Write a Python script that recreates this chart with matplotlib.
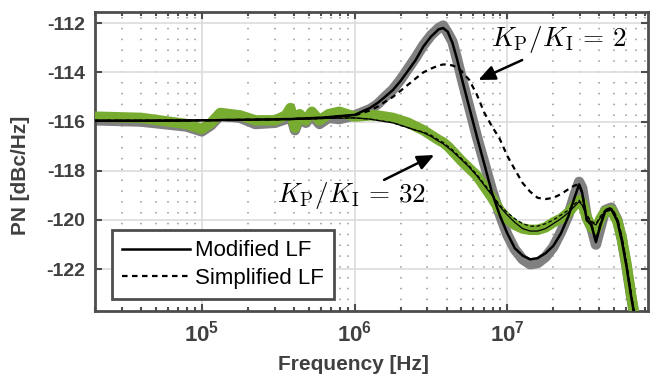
import numpy as np
import matplotlib
matplotlib.use("Agg")
import matplotlib.pyplot as plt
from matplotlib.ticker import LogLocator, NullFormatter

# fonts: Arial-like text, bold sans maths for the tick labels
plt.rcParams['font.family'] = ['Liberation Sans', 'DejaVu Sans']
plt.rcParams['mathtext.fontset'] = 'custom'
plt.rcParams['mathtext.rm'] = 'Liberation Sans'
plt.rcParams['mathtext.bf'] = 'Liberation Sans:bold'

# frequency points [Hz]
freq = [2.0e4, 4.0e4, 7.9e4, 1.0e5, 1.15e5, 1.32e5, 1.78e5, 2.24e5, 3.02e5,
        3.55e5, 3.8e5, 4.07e5, 4.37e5, 4.79e5, 5.25e5, 5.89e5, 6.76e5, 7.94e5,
        1.0e6, 1.26e6, 1.41e6, 1.58e6, 1.78e6, 2.0e6, 2.24e6, 2.51e6, 2.82e6,
        3.16e6, 3.55e6, 3.8e6, 4.07e6, 4.37e6, 4.68e6, 5.01e6, 5.62e6, 6.31e6,
        7.08e6, 7.94e6, 8.91e6, 1.0e7, 1.12e7, 1.26e7, 1.41e7, 1.58e7, 1.78e7,
        2.0e7, 2.24e7, 2.51e7, 2.75e7, 2.95e7, 3.09e7, 3.31e7, 3.55e7, 3.8e7,
        4.07e7, 4.37e7, 4.79e7, 5.25e7, 5.62e7, 6.03e7, 6.46e7, 6.76e7]

# measured phase noise, KP/KI = 2 (grey) and KP/KI = 32 (green)
meas_2 = [-115.95, -116.0, -116.2, -116.4, -116.15, -115.75, -115.85, -116.1, -116.05,
          -115.9, -115.7, -116.35, -115.85, -116.05, -115.75, -116.1, -115.85, -115.9,
          -115.75, -115.5, -115.3, -115.0, -114.7, -114.3, -113.85, -113.4, -112.9,
          -112.5, -112.2, -112.1, -112.4, -112.75, -113.45, -114.2, -115.4, -116.6,
          -117.7, -118.8, -119.75, -120.6, -121.2, -121.6, -121.8, -121.75, -121.5,
          -121.1, -120.5, -119.8, -119.0, -118.45, -118.7, -119.9, -120.3, -121.0,
          -120.3, -119.6, -119.5, -120.0, -120.8, -121.9, -123.1, -123.8]
meas_32 = [-115.8, -115.85, -116.1, -116.3, -116.05, -115.65, -115.75, -115.95, -115.95,
           -115.75, -115.45, -116.25, -115.7, -115.95, -115.6, -115.95, -115.7, -115.6,
           -115.8, -115.75, -115.75, -115.8, -115.85, -115.95, -116.05, -116.2, -116.35,
           -116.55, -116.75, -116.85, -117.0, -117.2, -117.4, -117.6, -117.9, -118.2,
           -118.65, -119.1, -119.6, -119.95, -120.2, -120.35, -120.4, -120.4, -120.3,
           -120.1, -119.95, -119.7, -119.4, -119.2, -119.3, -119.9, -120.3, -120.4,
           -119.95, -119.65, -119.6, -120.05, -120.75, -121.8, -123.05, -123.8]

# model curves: modified LF (solid) and simplified LF (dashed)
mod_2 = [-115.97, -115.97, -115.96, -115.95, -115.95, -115.94, -115.93, -115.92, -115.91,
         -115.9, -115.9, -115.89, -115.88, -115.87, -115.86, -115.85, -115.82, -115.78,
         -115.73, -115.45, -115.25, -115.0, -114.72, -114.35, -113.93, -113.5, -112.95,
         -112.55, -112.25, -112.2, -112.35, -112.8, -113.45, -114.2, -115.4, -116.6,
         -117.75, -118.9, -119.8, -120.55, -121.15, -121.45, -121.6, -121.55, -121.35,
         -121.05, -120.55, -119.85, -119.1, -118.55, -118.9, -120.0, -120.2, -120.9,
         -120.2, -119.65, -119.55, -120.05, -120.85, -121.9, -123.1, -123.8]
sim_2 = [-115.97, -115.97, -115.96, -115.95, -115.95, -115.94, -115.93, -115.92, -115.91,
         -115.9, -115.9, -115.89, -115.88, -115.87, -115.86, -115.85, -115.82, -115.79,
         -115.75, -115.55, -115.4, -115.2, -115.0, -114.75, -114.5, -114.25, -114.0,
         -113.85, -113.72, -113.68, -113.68, -113.72, -113.8, -113.95, -114.3, -114.9,
         -115.65, -116.2, -116.7, -117.4, -117.95, -118.5, -118.85, -119.1, -119.15,
         -119.1, -118.95, -118.75, -118.6, -118.55, -118.9, -120.0, -120.2, -120.85,
         -120.15, -119.6, -119.5, -119.95, -120.75, -121.85, -123.05, -123.8]
mod_32 = [-115.95, -115.95, -115.94, -115.94, -115.94, -115.93, -115.93, -115.92, -115.92,
          -115.91, -115.91, -115.9, -115.9, -115.89, -115.89, -115.88, -115.87, -115.86,
          -115.85, -115.9, -115.95, -116.0, -116.05, -116.15, -116.25, -116.35, -116.45,
          -116.6, -116.8, -116.9, -117.05, -117.2, -117.38, -117.55, -117.85, -118.2,
          -118.6, -119.0, -119.45, -119.8, -120.1, -120.35, -120.45, -120.45, -120.35,
          -120.15, -119.95, -119.7, -119.45, -119.25, -119.4, -119.85, -120.1, -120.2,
          -119.9, -119.65, -119.6, -120.0, -120.75, -121.8, -123.05, -123.8]
sim_32 = [-115.95, -115.95, -115.94, -115.94, -115.94, -115.93, -115.93, -115.92, -115.92,
          -115.91, -115.91, -115.9, -115.9, -115.89, -115.89, -115.88, -115.87, -115.86,
          -115.85, -115.9, -115.95, -116.0, -116.05, -116.15, -116.25, -116.35, -116.42,
          -116.55, -116.75, -116.85, -117.0, -117.15, -117.33, -117.5, -117.8, -118.15,
          -118.55, -118.95, -119.4, -119.7, -119.95, -120.15, -120.25, -120.25, -120.15,
          -120.0, -119.8, -119.6, -119.35, -119.2, -119.35, -119.8, -120.05, -120.15,
          -119.85, -119.6, -119.55, -119.95, -120.7, -121.75, -123.0, -123.8]

y_ticks = [-122, -120, -118, -116, -114, -112]
x_ticks = [1e5, 1e6, 1e7]
x_tick_labels = [r'$\mathbf{10^{5}}$', r'$\mathbf{10^{6}}$', r'$\mathbf{10^{7}}$']

GREY = '#808080'
GREEN = '#77AC30'
AXCOL = '0.3'

fig = plt.figure(figsize=(6.51, 3.77), dpi=100)
ax = fig.add_axes([0.146, 0.175, 0.849, 0.793])

# measured data (thick bands) then the model curves on top
ax.plot(freq, meas_2, color=GREY, lw=7.5, solid_capstyle='round',
        solid_joinstyle='round', zorder=2)
ax.plot(freq, meas_32, color=GREEN, lw=7.5, solid_capstyle='round',
        solid_joinstyle='round', zorder=3)
ax.plot(freq, mod_32, color='k', lw=0.9, zorder=4)
ax.plot(freq, sim_32, color='k', lw=0.9, dashes=(3, 2), zorder=4)
ax.plot(freq, mod_2, color='k', lw=1.8, zorder=5, label='Modified LF')
ax.plot(freq, sim_2, color='k', lw=1.6, dashes=(2.5, 2), zorder=5,
        label='Simplified LF')

ax.set_xscale('log')
ax.set_xlim(2e4, 8.3e7)
ax.set_ylim(-123.7, -111.55)

ax.set_xticks(x_ticks)
ax.set_xticklabels(x_tick_labels)
ax.xaxis.set_minor_locator(LogLocator(base=10, subs=np.arange(2, 10), numticks=20))
ax.xaxis.set_minor_formatter(NullFormatter())
ax.set_yticks(y_ticks)
ax.set_yticklabels([str(v) for v in y_ticks], fontweight='bold')

ax.set_axisbelow(True)
ax.grid(which='major', color='0.86', lw=1.2, ls='-')
ax.grid(which='minor', axis='x', color='0.62', lw=1.2, ls=(0, (0.9, 5.6)))

ax.tick_params(which='both', direction='in', top=True, right=True,
               color=AXCOL, width=1.5, labelcolor='0.25', labelsize=14)
ax.tick_params(axis='x', which='major', labelsize=16)
ax.tick_params(which='major', length=5, pad=7)
ax.tick_params(which='minor', length=3)
for s in ax.spines.values():
    s.set_color(AXCOL)
    s.set_linewidth(2)

ax.set_xlabel('Frequency [Hz]', fontsize=15, fontweight='bold', color='0.25')
ax.set_ylabel('PN [dBc/Hz]', fontsize=15, fontweight='bold', color='0.25')
ax.xaxis.set_label_coords(0.468, -0.148)
ax.yaxis.set_label_coords(-0.1175, 0.453)

# annotations
arrow = dict(arrowstyle='-|>,head_length=0.5,head_width=0.22', color='k',
             lw=1.8, shrinkA=0, shrinkB=0, mutation_scale=20)
ax.annotate('', xy=(6.46e6, -114.31), xytext=(1.25e7, -113.5), arrowprops=arrow)
ax.annotate('', xy=(3.32e6, -117.36), xytext=(1.56e6, -118.37), arrowprops=arrow)
ax.text(7.85e6, -112.93, r'$K_\mathrm{P}/K_\mathrm{I}\,=\,2$', fontsize=19.5,
        math_fontfamily='cm', ha='left', va='baseline')
ax.text(3.1e5, -119.25, r'$K_\mathrm{P}/K_\mathrm{I}\,=\,32$', fontsize=19.5,
        math_fontfamily='cm', ha='left', va='baseline')

leg = ax.legend(loc='lower left', bbox_to_anchor=(0.031, 0.04), borderaxespad=0,
                fontsize=16, handlelength=3.05, handletextpad=0.23,
                labelspacing=0.3, borderpad=0.45, fancybox=False, framealpha=1)
leg.get_frame().set_edgecolor(AXCOL)
leg.get_frame().set_linewidth(2)

fig.savefig('out.png', dpi=100)
